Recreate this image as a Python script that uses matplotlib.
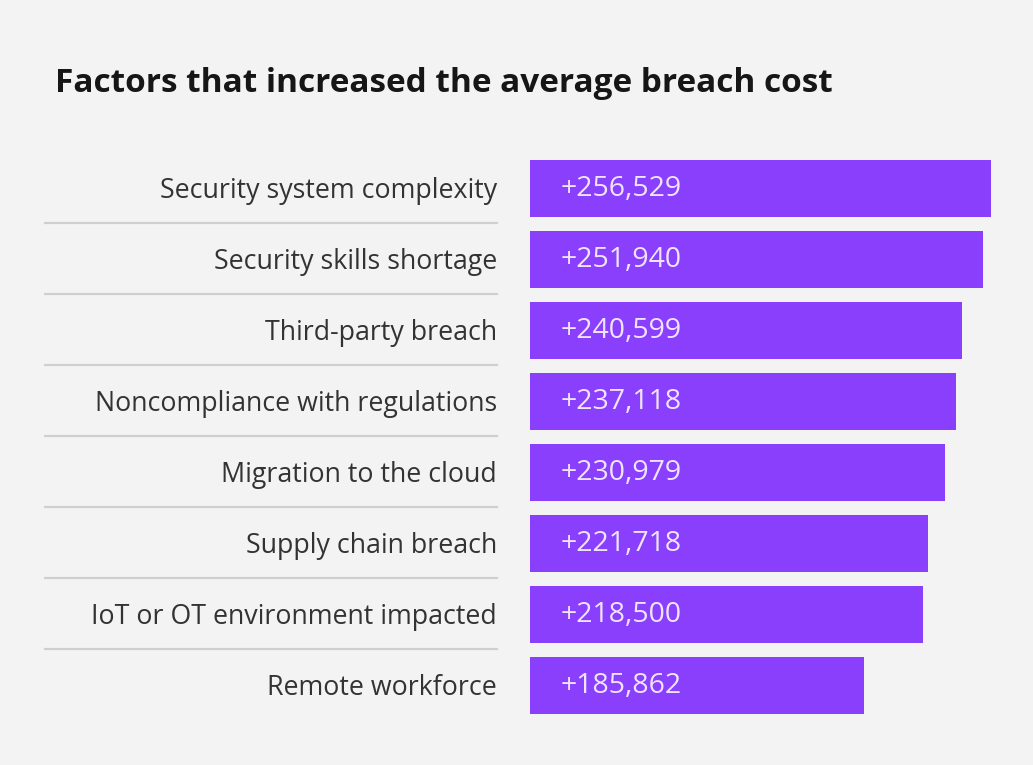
import matplotlib.pyplot as plt
from matplotlib.transforms import blended_transform_factory, offset_copy

factors = [
    "Security system complexity",
    "Security skills shortage",
    "Third-party breach",
    "Noncompliance with regulations",
    "Migration to the cloud",
    "Supply chain breach",
    "IoT or OT environment impacted",
    "Remote workforce",
]
cost_increase = [256529, 251940, 240599, 237118, 230979, 221718, 218500, 185862]

bg = "#f3f3f3"
bar_color = "#8a3ffc"
plt.rcParams["font.family"] = ["Open Sans", "DejaVu Sans"]

fig = plt.figure(figsize=(10.33, 7.65), dpi=100, facecolor=bg)
ax = fig.add_axes([0.513, 0.0575, 0.487, 0.7425])
ax.set_facecolor(bg)

ypos = list(range(len(factors)))
ax.barh(ypos, cost_increase, height=0.8, color=bar_color)
ax.set_xlim(0, 280000)
ax.set_ylim(len(factors) - 0.5, -0.5)
ax.axis("off")

# value labels inside bars
for y, v in zip(ypos, cost_increase):
    ax.annotate(f"+{v:,}", xy=(0, y), xytext=(22, -0.5), textcoords="offset points",
                ha="left", va="center", fontsize=20.5, color="#efe4ff")

# category labels and separators to the left of the bars
trans = blended_transform_factory(fig.transFigure, ax.transData)
label_trans = offset_copy(trans, fig=fig, x=0, y=-2, units="points")
for y, name in zip(ypos, factors):
    ax.text(0.481, y, name, transform=label_trans, ha="right", va="center",
            fontsize=19.3, color="#333333", clip_on=False)
    if y < len(factors) - 1:
        ax.plot([0.044, 0.481], [y + 0.48, y + 0.48], transform=trans,
                color="#cfcfcf", lw=1.6, clip_on=False)

fig.text(0.053, 0.88, "Factors that increased the average breach cost",
         fontsize=24, fontweight="bold", color="#161616", ha="left", va="baseline")

fig.savefig("out.png", dpi=100, facecolor=bg)
